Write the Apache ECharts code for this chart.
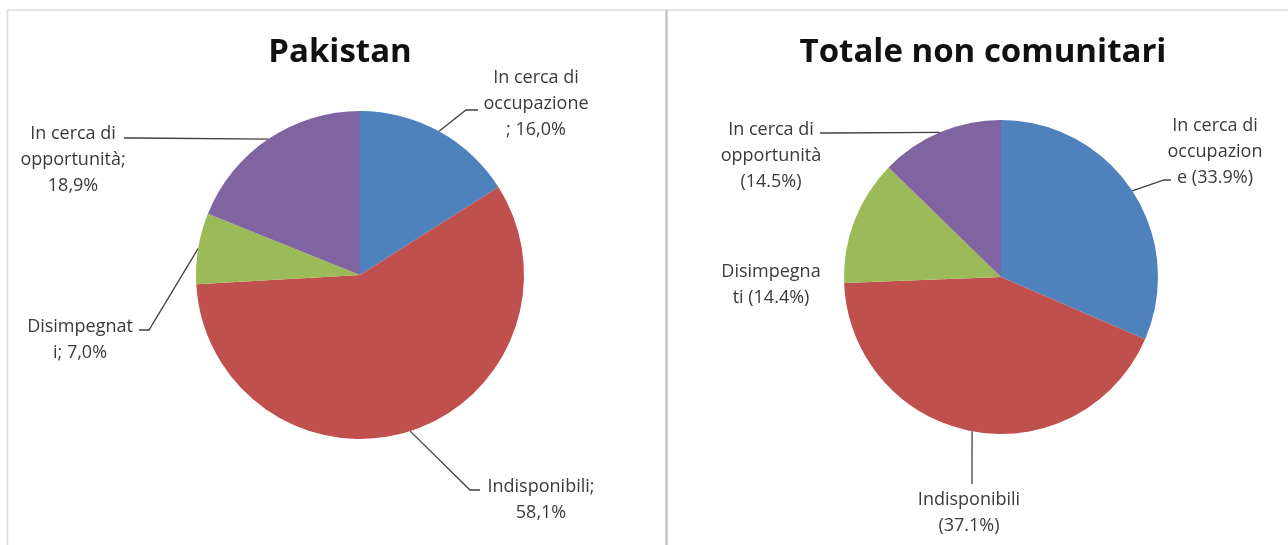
<!DOCTYPE html>
<html>
<head>
<meta charset="utf-8">
<script src="https://cdn.jsdelivr.net/npm/echarts@6/dist/echarts.min.js"></script>
<style>
  html, body { margin: 0; padding: 0; background: #fff; }
  #chart { width: 1288px; height: 545px; }
</style>
</head>
<body>
<div id="chart"></div>
<script>
// categories, clockwise from 12 o'clock
const categories = ['In cerca di occupazione', 'Indisponibili', 'Disimpegnati', 'In cerca di opportunità'];
const colors = ['#4F81BD', '#C0504D', '#9BBB59', '#8064A2'];

const pakistanValues = [16.0, 58.1, 7.0, 18.9];
const pakistanLabels = ['In cerca di\noccupazione\n; 16,0%', 'Indisponibili;\n58,1%', 'Disimpegnat\ni; 7,0%', 'In cerca di\nopportunità;\n18,9%'];

// the slices of the second pie are not drawn to the printed percentages,
// so sizes are read from the slice angles and the labels kept as printed
const totaleValues = [31.5, 42.9, 12.9, 12.7];
const totaleLabels = ['In cerca di\noccupazion\ne (33.9%)', 'Indisponibili\n(37.1%)', 'Disimpegna\nti (14.4%)', 'In cerca di\nopportunità\n(14.5%)'];

// where each label sits, and where its leader line ends (elbow, end)
const labelSpots = [
    [
        { x: 536, y: 104, elbow: [466, 110], end: [478, 110] },
        { x: 541, y: 500, elbow: [470, 490], end: [480, 490] },
        { x: 80, y: 340, elbow: [149, 330], end: [139, 330] },
        { x: 73, y: 160, elbow: [135, 138], end: [124, 138] }
    ],
    [
        { x: 1215, y: 152, elbow: [1164, 180], end: [1171, 180] },
        { x: 969, y: 513, elbow: [972, 470], end: [972, 484] },
        { x: 771, y: 285 },
        { x: 771, y: 156, elbow: [830, 133], end: [820, 133] }
    ]
];

const font = '"Open Sans", "Noto Sans", sans-serif';

function pieData(values, labels, hideLine) {
    return values.map((v, i) => {
        const item = {
            name: categories[i],
            value: v,
            itemStyle: { color: colors[i] },
            label: { formatter: labels[i] }
        };
        if (hideLine.indexOf(i) >= 0) item.labelLine = { show: false };
        return item;
    });
}

function pieSeries(center, radius, data) {
    return {
        type: 'pie',
        center: center,
        radius: radius,
        startAngle: 90,
        clockwise: true,
        avoidLabelOverlap: false,
        animation: false,
        silent: true,
        label: {
            show: true,
            position: 'outside',
            fontFamily: font,
            fontSize: 18,
            lineHeight: 26,
            color: '#3a3a3a',
            align: 'center'
        },
        labelLine: {
            show: true,
            length: 10,
            length2: 10,
            lineStyle: { color: '#404040', width: 1.3 }
        },
        labelLayout: function (params) {
            const spot = labelSpots[params.seriesIndex][params.dataIndex];
            const out = { x: spot.x, y: spot.y, align: 'center', verticalAlign: 'middle' };
            if (spot.end && params.labelLinePoints) {
                out.labelLinePoints = [params.labelLinePoints[0], spot.elbow, spot.end];
            }
            return out;
        },
        data: data
    };
}

const chart = echarts.init(document.getElementById('chart'));
chart.setOption({
    backgroundColor: '#fff',
    title: [
        {
            text: 'Pakistan', left: 335, top: 31, textAlign: 'center',
            textStyle: { fontFamily: font, fontSize: 33, fontWeight: 'bold', color: '#111' }
        },
        {
            text: 'Totale non comunitari', left: 978, top: 31, textAlign: 'center',
            textStyle: { fontFamily: font, fontSize: 33, fontWeight: 'bold', color: '#111' }
        }
    ],
    graphic: [
        { type: 'line', shape: { x1: 7, y1: 10, x2: 1288, y2: 10 }, style: { stroke: '#dcdcdc', lineWidth: 1.5 } },
        { type: 'line', shape: { x1: 7.5, y1: 10, x2: 7.5, y2: 545 }, style: { stroke: '#dcdcdc', lineWidth: 1.5 } },
        { type: 'line', shape: { x1: 666.5, y1: 10, x2: 666.5, y2: 545 }, style: { stroke: '#c4c4c4', lineWidth: 2.5 } }
    ],
    series: [
        pieSeries([360, 275], 164, pieData(pakistanValues, pakistanLabels, [])),
        pieSeries([1001, 277], 157, pieData(totaleValues, totaleLabels, [2]))
    ]
});
</script>
</body>
</html>
